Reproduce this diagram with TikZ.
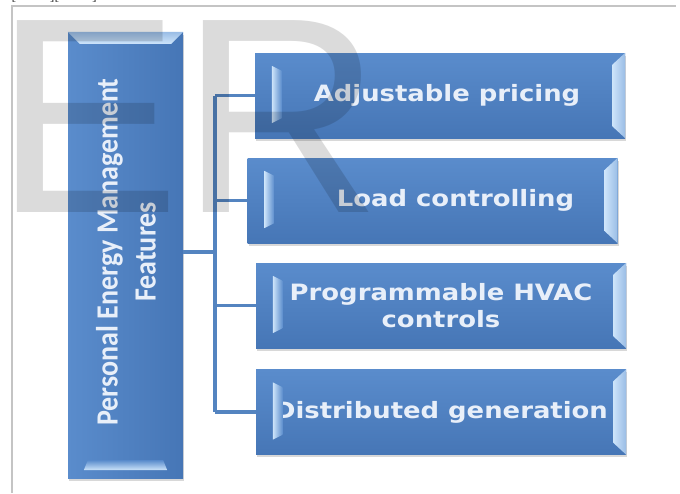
\documentclass[tikz,border=0pt]{standalone}
\usepackage{fontspec}
\usetikzlibrary{calc,shadows}
\newfontfamily\boxfont[FakeStretch=1.15]{DejaVu Sans}
\newfontfamily\pemfont{Carlito}
\newfontfamily\wmfont{Liberation Sans}
\newfontfamily\brkfont{Liberation Serif}
\definecolor{boxtop}{RGB}{90,140,204}
\definecolor{boxbot}{RGB}{70,118,182}
\definecolor{hl}{RGB}{205,228,250}
\definecolor{txt}{RGB}{232,239,249}
\definecolor{conncol}{RGB}{84,132,192}
\definecolor{framecol}{RGB}{196,196,196}
\tikzset{
  featbox/.style={rectangle, inner sep=0pt, minimum width=370pt, minimum height=85pt,
    top color=boxtop, bottom color=boxbot, text=txt,
    font=\boxfont\bfseries\fontsize{22.5}{27}\selectfont, align=center,
    drop shadow={shadow xshift=1pt, shadow yshift=-2.5pt, opacity=0.3}},
  mainbox/.style={rectangle, inner sep=0pt, minimum width=115pt, minimum height=446pt,
    left color=boxtop, right color=boxbot,
    drop shadow={shadow xshift=1pt, shadow yshift=-2.5pt, opacity=0.3}},
  mainlabel/.style={text=txt, font=\pemfont\bfseries\fontsize{28}{34.5}\selectfont,
    rotate=90, inner sep=0pt},
  conn/.style={draw=conncol, line width=3.5pt},
}
\newcommand\bevelH[1]{%
  \shade[left color=hl, right color=boxtop]
    ($(#1.north west)+(17,13)$) -- ($(#1.north west)+(27,18)$) --
    ($(#1.south west)+(27,-20)$) -- ($(#1.south west)+(17,-15)$) -- cycle;
  \shade[left color=hl, right color=hl!55!boxtop]
    ($(#1.north east)+(-13,12)$) -- (#1.north east) -- (#1.south east) --
    ($(#1.south east)+(-13,-12)$) -- cycle;}
\newcommand\bevelV[1]{%
  \shade[top color=hl!55!boxtop, bottom color=hl]
    (#1.north west) -- (#1.north east) -- ($(#1.north east)+(-12,12)$) --
    ($(#1.north west)+(12,12)$) -- cycle;
  \shade[top color=boxtop, bottom color=hl]
    ($(#1.south west)+(20,-18)$) -- ($(#1.south east)+(-20,-18)$) --
    ($(#1.south east)+(-16,-8)$) -- ($(#1.south west)+(16,-8)$) -- cycle;}
\begin{document}
\begin{tikzpicture}[x=1pt,y=-1pt]
\useasboundingbox[fill=white] (0,0) rectangle (680,493);
% frame and cut-off text above
\draw[framecol, line width=1.2pt] (12,493) -- (12,6) -- (676,6);
\node[font=\brkfont\fontsize{14}{14}\selectfont, anchor=base west, inner sep=0pt, text=black!80]
  (brk) at (11.5,0) {[\hspace{33.5pt}][\hspace{33pt}]};
% boxes
\node[mainbox] (main) at (125.5,255) {};
\bevelV{main}
\node[mainlabel] (mainl) at (129,252)
  {\scalebox{1}[1.1]{\begin{tabular}{@{}c@{}}Personal Energy Management\\Features\end{tabular}}};
\node[featbox] (b1) at (440,95.5) {\hspace*{14pt}Adjustable pricing};
\node[featbox] (b2) at (432.5,200.5) {\hspace*{46pt}Load controlling};
\node[featbox] (b3) at (441,305.5) {Programmable HVAC\\controls};
\node[featbox] (b4) at (441,412) {Distributed generation};
\bevelH{b1}\bevelH{b2}\bevelH{b3}\bevelH{b4}
% connectors
\coordinate (jn) at (215,252);
\draw[conn] (main.east |- jn) -- (jn);
\draw[conn] (b1.west -| jn) -- (b4.west -| jn);
\draw[conn] (b1.west -| jn) -- (b1.west);
\draw[conn] (b2.west -| jn) -- (b2.west);
\draw[conn] (b3.west -| jn) -- (b3.west);
\draw[conn] (b4.west -| jn) -- (b4.west);
% watermark
\node[font=\wmfont\fontsize{279}{279}\selectfont, text=black, text opacity=0.14,
  anchor=base west, inner sep=0pt] (wm) at (-6,212) {ER};
\end{tikzpicture}
\end{document}
